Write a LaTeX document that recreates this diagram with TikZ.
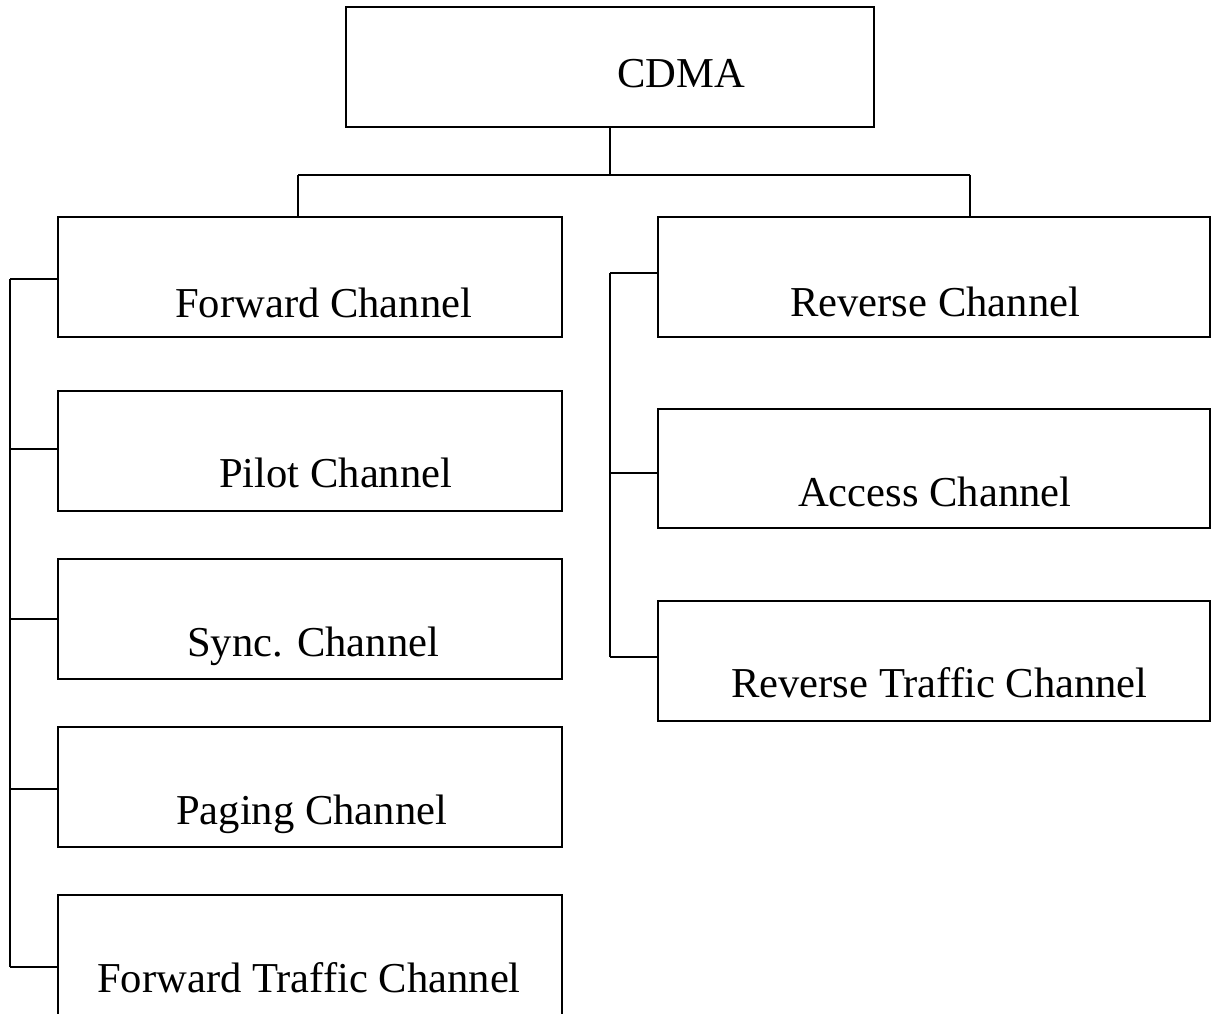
\documentclass[tikz,border=0pt]{standalone}
\usepackage{fontspec}
\setmainfont{Liberation Serif}
\begin{document}
\begin{tikzpicture}[x=1pt,y=-1pt,
  chbox/.style={draw=black, line width=2pt, rectangle, inner sep=0pt, outer sep=0pt, anchor=north west},
  lbl/.style={anchor=base west, inner sep=0pt, font=\fontsize{42.6}{50}\selectfont},
  wire/.style={draw=black, line width=2pt}]
\useasboundingbox (0,0) rectangle (1211,1014);
\fill[white] (0,0) rectangle (1211,1014);

% top box
\node[chbox, minimum width=528, minimum height=120] (cdma) at (346,7) {};
\node[lbl] (cdmat) at (617,88) {CDMA};

% forward channel column
\node[chbox, minimum width=504, minimum height=120] (fwd) at (58,217) {};
\node[lbl] (fwdt) at (175,317) {Forward Channel};
\node[chbox, minimum width=504, minimum height=120] (pilot) at (58,391) {};
\node[lbl] (pilott) at (219,487) {Pilot Channel};
\node[chbox, minimum width=504, minimum height=120] (sync) at (58,559) {};
\node[lbl] (synct) at (187,656) {Sync. Channel};
\node[chbox, minimum width=504, minimum height=120] (paging) at (58,727) {};
\node[lbl] (pagingt) at (176,824) {Paging Channel};
\node[chbox, minimum width=504, minimum height=135] (ftraf) at (58,895) {};
\node[lbl] (ftraft) at (97,992) {Forward Traffic Channel};

% reverse channel column
\node[chbox, minimum width=552, minimum height=120] (rev) at (658,217) {};
\node[lbl] (revt) at (790,316) {Reverse Channel};
\node[chbox, minimum width=552, minimum height=119] (access) at (658,409) {};
\node[lbl] (accesst) at (798,506) {Access Channel};
\node[chbox, minimum width=552, minimum height=120] (rtraf) at (658,601) {};
\node[lbl] (rtraft) at (731,697) {Reverse Traffic Channel};

% split below the top box
\coordinate (jn) at (610,175);
\coordinate (jl) at (298,175);
\coordinate (jr) at (970,175);
\draw[wire] (cdma.south -| jn) -- (jn);
\draw[wire] (jl) -- (jr);
\draw[wire] (jl) -- (fwd.north -| jl);
\draw[wire] (jr) -- (rev.north -| jr);

% left bus
\coordinate (l1) at (10,279);
\coordinate (l2) at (10,449);
\coordinate (l3) at (10,619);
\coordinate (l4) at (10,789);
\coordinate (l5) at (10,967);
\draw[wire] (l1) -- (l5);
\draw[wire] (l1) -- (l1 -| fwd.west);
\draw[wire] (l2) -- (l2 -| pilot.west);
\draw[wire] (l3) -- (l3 -| sync.west);
\draw[wire] (l4) -- (l4 -| paging.west);
\draw[wire] (l5) -- (l5 -| ftraf.west);

% right bus
\coordinate (r1) at (610,273);
\coordinate (r2) at (610,473);
\coordinate (r3) at (610,657);
\draw[wire] (r1) -- (r3);
\draw[wire] (r1) -- (r1 -| rev.west);
\draw[wire] (r2) -- (r2 -| access.west);
\draw[wire] (r3) -- (r3 -| rtraf.west);
\end{tikzpicture}
\end{document}
